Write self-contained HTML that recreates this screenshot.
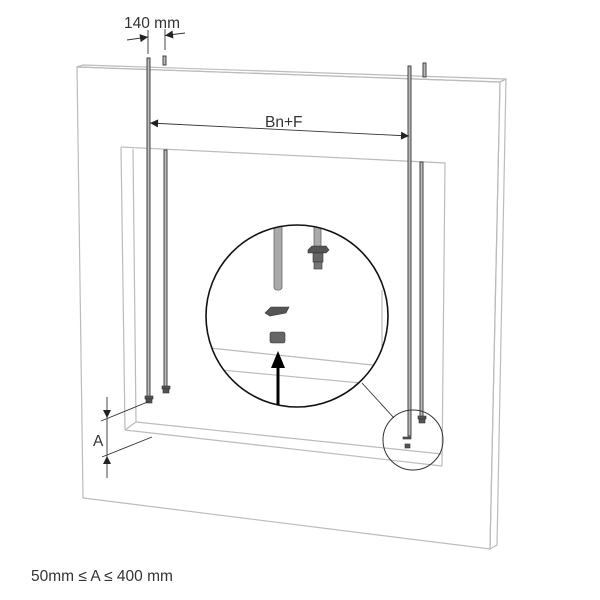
<!DOCTYPE html>
<html><head><meta charset="utf-8"><style>
html,body{margin:0;padding:0;background:#fff;}
svg{display:block;}
text{font-family:"Liberation Sans",sans-serif;fill:#333;}
</style></head><body>
<svg width="600" height="600" viewBox="0 0 600 600" xmlns="http://www.w3.org/2000/svg">
<defs>
<marker id="ar" viewBox="0 0 10 10" refX="10" refY="5" markerWidth="13" markerHeight="8" orient="auto-start-reverse" markerUnits="userSpaceOnUse"><path d="M0,0 L10,5 L0,10 z" fill="#222"/></marker>
</defs>
<g fill="none" stroke="#bbb" stroke-width="1.2">
<polygon points="77,67 500,82 490,549 83,498" fill="#fff"/>
<polygon points="77,67 83,65 506,79 500,82"/>
<polygon points="500,82 506,79 497,545 490,549"/>
<polyline points="121,147 445,163 442,466"/>
<line x1="121" y1="147" x2="125" y2="430"/>
<line x1="125" y1="430" x2="442" y2="466"/>
<line x1="133" y1="149" x2="136" y2="422"/>
<line x1="136" y1="422" x2="442" y2="454"/>
<line x1="125" y1="430" x2="136" y2="422"/>
</g>
<g fill="#bbb" stroke="#333" stroke-width="0.9">
<rect x="147" y="58" width="3" height="340"/>
<rect x="163" y="56" width="3" height="9"/>
<rect x="164" y="150" width="3" height="238"/>
<rect x="408" y="66" width="3" height="370"/>
<rect x="423" y="63" width="3" height="14"/>
<rect x="420" y="162" width="3" height="256"/>
</g>
<g fill="#555" stroke="#333" stroke-width="0.6">
<rect x="145" y="396" width="8" height="3"/><rect x="146" y="399" width="6" height="4"/>
<rect x="162" y="386" width="8" height="3"/><rect x="163" y="389" width="6" height="4"/>
<rect x="418" y="416" width="8" height="3"/><rect x="419" y="419" width="6" height="4"/>
<rect x="403" y="437" width="8" height="2"/>
<rect x="405" y="444" width="5" height="4"/>
</g>
<g stroke="#333" stroke-width="0.9" fill="none">
<line x1="148" y1="30" x2="148" y2="54"/>
<line x1="165" y1="29" x2="165" y2="50"/>
<line x1="127" y1="40" x2="148" y2="37" marker-end="url(#ar)"/>
<line x1="185" y1="33" x2="165" y2="35.5" marker-end="url(#ar)"/>
<line x1="150" y1="123" x2="409" y2="136" marker-start="url(#ar)" marker-end="url(#ar)"/>
<line x1="107" y1="397" x2="107" y2="418" marker-end="url(#ar)"/>
<line x1="107" y1="478" x2="107" y2="456" marker-end="url(#ar)"/>
<line x1="107" y1="418" x2="107" y2="456"/>
<line x1="101" y1="421" x2="150" y2="401"/>
<line x1="102" y1="457" x2="152" y2="437"/>
<line x1="362" y1="383" x2="394" y2="418"/>
</g>
<text x="124" y="28" font-size="15.5">140 mm</text>
<text x="265" y="127" font-size="15.5">Bn+F</text>
<text x="93" y="446" font-size="15.5">A</text>
<text x="31" y="581" font-size="15.5">50mm ≤ A ≤ 400 mm</text>
<clipPath id="cc"><circle cx="297" cy="316" r="91"/></clipPath>
<circle cx="297" cy="316" r="91" fill="#fff"/>
<g clip-path="url(#cc)">
<g stroke="#bbb" stroke-width="1.2" fill="none">
<line x1="200" y1="347" x2="382" y2="366"/>
<line x1="200" y1="368" x2="382" y2="385"/>
<line x1="382" y1="290" x2="382" y2="366"/>
</g>
<rect x="274" y="215" width="8" height="75" rx="3" fill="#aaa" stroke="#666" stroke-width="0.8"/>
<rect x="314" y="215" width="7" height="36" fill="#aaa" stroke="#666" stroke-width="0.8"/>
</g>
<path d="M308,250 L312,246 L326,246 L329,250 L326,253 L308,253z" fill="#555" stroke="#333" stroke-width="0.6"/>
<rect x="313" y="253" width="10" height="9" fill="#666" stroke="#333" stroke-width="0.6"/>
<rect x="314" y="262" width="8" height="7" fill="#777" stroke="#333" stroke-width="0.6"/>
<path d="M265,313 L271,307 L289,307 L286,313 L270,316z" fill="#555" stroke="#333" stroke-width="0.6"/>
<rect x="270" y="332" width="15" height="11" rx="2" fill="#666" stroke="#333" stroke-width="0.6"/>
<line x1="278" y1="405" x2="278" y2="365" stroke="#000" stroke-width="3"/>
<polygon points="271,368 285,368 278,351" fill="#000"/>
<circle cx="297" cy="316" r="91" fill="none" stroke="#111" stroke-width="1.6"/>
<circle cx="413" cy="440" r="30" fill="none" stroke="#333" stroke-width="1"/>
</svg>
</body></html>
